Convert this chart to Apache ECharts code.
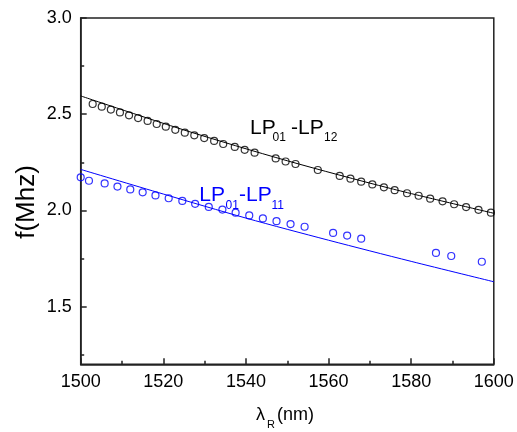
<!DOCTYPE html>
<html>
<head>
<meta charset="utf-8">
<script src="https://cdn.jsdelivr.net/npm/echarts@6/dist/echarts.min.js"></script>
<style>
html,body{margin:0;padding:0;background:#fff;}
#c{width:517px;height:432px;}
</style>
</head>
<body>
<div id="c"></div>
<script>
// ---- data ----
const lp12X = [1502.9,1505.1,1507.3,1509.5,1511.7,1513.9,1516.2,1518.4,1520.6,1522.9,1525.2,1527.5,1529.9,1532.3,1534.5,1537.3,1539.7,1542.1,1547.2,1549.6,1552.0,1557.4,1562.7,1565.3,1567.9,1570.6,1573.4,1576.0,1579.0,1581.8,1584.6,1587.6,1590.4,1593.3,1596.3,1599.3];
const lp12Y = [2.553,2.539,2.524,2.509,2.494,2.480,2.465,2.449,2.435,2.419,2.404,2.390,2.376,2.361,2.345,2.330,2.315,2.300,2.270,2.254,2.241,2.210,2.179,2.165,2.149,2.135,2.120,2.105,2.089,2.076,2.061,2.047,2.032,2.017,2.003,1.988];
const lp12LineX = [1500,1525,1550,1575,1600];
const lp12LineY = [2.595,2.418,2.258,2.114,1.985];

const lp11X = [1500.0,1502.0,1505.8,1508.9,1512.0,1515.0,1518.1,1521.3,1524.6,1527.7,1531.0,1534.3,1537.5,1540.8,1544.1,1547.4,1550.8,1554.2,1561.1,1564.5,1567.9,1586.0,1589.7,1597.1];
const lp11Y = [2.172,2.154,2.140,2.124,2.109,2.094,2.078,2.063,2.049,2.034,2.018,2.004,1.988,1.974,1.958,1.944,1.929,1.915,1.883,1.869,1.853,1.779,1.763,1.733];
const lp11LineX = [1500,1520,1540,1560,1580,1600];
const lp11LineY = [2.213,2.085,1.960,1.845,1.735,1.629];

const xTickLabels = [1500,1520,1540,1560,1580,1600];
const xMinorTicks = [1510,1530,1550,1570,1590];
const yTickLabels = [1.5,2.0,2.5,3.0];
const yMinorTicks = [1.25,1.75,2.25,2.75];

const zip = (a,b) => a.map((v,i)=>[v,b[i]]);
const FONT = 'Liberation Sans, Arial, sans-serif';
const AX = '#222';

const chart = echarts.init(document.getElementById('c'), null, {renderer:'canvas'});

function txt(x, yMid, s, size, color, extra) {
  return Object.assign({
    type:'text', x:x, y:yMid, silent:true, z:100,
    style:{text:s, fontSize:size, fontFamily:FONT, fill:color, align:'left', verticalAlign:'middle'}
  }, extra||{});
}

chart.setOption({
  animation:false,
  backgroundColor:'#fff',
  grid:{left:80.7, right:23.2, top:18, bottom:67.7, show:true, borderColor:AX, borderWidth:1.5, backgroundColor:'transparent'},
  xAxis:[{
    type:'value', min:1500, max:1600,
    axisLine:{show:true, lineStyle:{color:AX, width:1.5}},
    axisTick:{show:true, inside:true, length:6, customValues:xTickLabels, lineStyle:{color:AX, width:1.5}},
    axisLabel:{color:'#000', fontSize:18, fontFamily:FONT, margin:9, customValues:xTickLabels, formatter:v=>String(Math.round(v))},
    splitLine:{show:false}
  },{
    type:'value', min:1500, max:1600, position:'bottom',
    axisLine:{show:false},
    axisTick:{show:true, inside:true, length:3.5, customValues:xMinorTicks, lineStyle:{color:AX, width:1.5}},
    axisLabel:{show:false},
    splitLine:{show:false}
  }],
  yAxis:[{
    type:'value', min:1.2, max:3.0,
    axisLine:{show:true, lineStyle:{color:AX, width:1.5}},
    axisTick:{show:true, inside:true, length:6, customValues:yTickLabels, lineStyle:{color:AX, width:1.5}},
    axisLabel:{color:'#000', fontSize:18, fontFamily:FONT, margin:9, customValues:yTickLabels, formatter:v=>Number(v).toFixed(1)},
    splitLine:{show:false}
  },{
    type:'value', min:1.2, max:3.0, position:'left',
    axisLine:{show:false},
    axisTick:{show:true, inside:true, length:3.5, customValues:yMinorTicks, lineStyle:{color:AX, width:1.5}},
    axisLabel:{show:false},
    splitLine:{show:false}
  }],
  series:[
    {type:'line', data:zip(lp12LineX,lp12LineY), smooth:0.3, symbol:'none', lineStyle:{color:'#000', width:1}, z:2},
    {type:'scatter', data:zip(lp12X,lp12Y), symbol:'circle', symbolSize:7, itemStyle:{color:'transparent', borderColor:'#000', borderWidth:1.2}, z:3},
    {type:'line', data:zip(lp11LineX,lp11LineY), smooth:0.3, symbol:'none', lineStyle:{color:'#0000ff', width:1}, z:2},
    {type:'scatter', data:zip(lp11X,lp11Y), symbol:'circle', symbolSize:7, itemStyle:{color:'transparent', borderColor:'#0000ff', borderWidth:1.2}, z:3}
  ],
  graphic:[
    txt(250,128.7,'LP',21,'#000'),
    txt(272.5,137.8,'01',12,'#000'),
    txt(291,128.7,'-LP',21,'#000'),
    txt(324,137.8,'12',12,'#000'),
    txt(199.3,195.7,'LP',21,'#0000ff'),
    txt(225.5,205.8,'01',12,'#0000ff'),
    txt(239,195.7,'-LP',21,'#0000ff'),
    txt(271.5,205.8,'11',12,'#0000ff'),
    txt(256,414.8,'λ',18,'#000'),
    txt(267,425.2,'R',11,'#000'),
    txt(277,414.8,'(nm)',18,'#000'),
    {type:'text', x:27, y:202, rotation:Math.PI/2, silent:true,
     style:{text:'f(Mhz)', fontSize:26, fontFamily:FONT, fill:'#000', align:'center', verticalAlign:'middle'}}
  ]
});
</script>
</body>
</html>
